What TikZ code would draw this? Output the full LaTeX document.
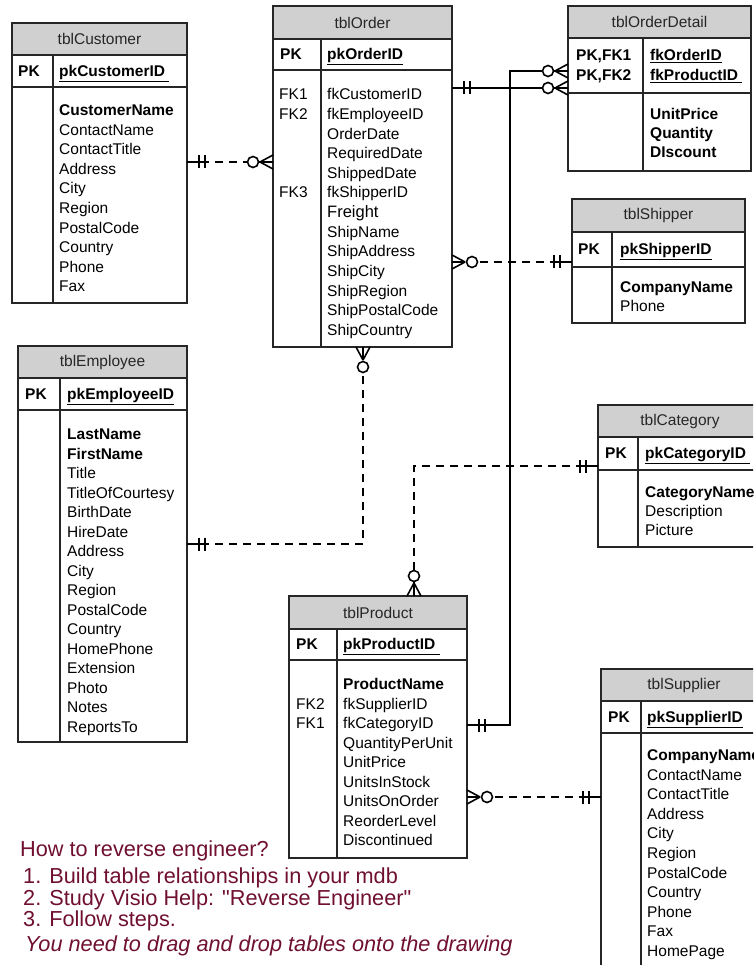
\documentclass[tikz,border=0pt]{standalone}
\usepackage{fontspec}
\setmainfont{Liberation Sans}[Ligatures=TeXOff]
\definecolor{hdrgray}{RGB}{208,208,208}
\definecolor{notecol}{RGB}{112,16,48}

% one entity table: name, x1, y1, x2, y2, header bottom, key row bottom, column divider, title
\newcommand\ertab[9]{%
  \node[tblbox, minimum width={#4-#2}, minimum height={#5-#3}, anchor=north west] (#1) at (#2,#3) {};
  \fill[hdrgray] (#2,#3) rectangle (#4,#6);
  \draw[tblline] (#2,#3) rectangle (#4,#5) (#2,#6) -- (#4,#6) (#2,#7) -- (#4,#7) (#8,#6) -- (#8,#5);
  \node[ttl] (#1-title) at ({(#2+#4)/2},{(#3+#6)/2}) {#9};
}
% a column of field names: prefix, x, first y, row step, list
\newcommand\fieldcol[5]{%
  \foreach \f [count=\i from 0] in {#5} \node[fld] (#1-\i) at (#2,{#3+\i*#4}) {\f};
}

\tikzset{
  tblbox/.style={inner sep=0pt, outer sep=0pt, draw=none},
  tblline/.style={draw=black!85, line width=1.1pt},
  ttl/.style={font=\fontsize{15.5}{19}\selectfont, text=black!85, inner sep=0pt},
  fld/.style={font=\fontsize{15.5}{19}\selectfont, anchor=west, inner sep=0pt, text height=11pt, text depth=0pt},
  rel/.style={line width=1.8pt, black},
  dashrel/.style={rel, dash pattern=on 8pt off 6pt},
  mk/.style={line width=1.6pt, black, solid},
  note/.style={font=\fontsize{21.7}{24}\selectfont, text=notecol, anchor=west, inner sep=0pt, text height=15.5pt, text depth=0pt},
  pics/zeromany/.style={code={
    \draw[mk] (0,-7) -- (13,0) (0,0) -- (13,0) (0,7) -- (13,0);
    \draw[mk, fill=white] (20,0) circle (5.5);
  }},
  pics/onlyone/.style={code={
    \draw[mk] (0,0) -- (22,0) (12,-6.5) -- (12,6.5) (18,-6.5) -- (18,6.5);
  }},
}

\begin{document}
\begin{tikzpicture}[x=1pt,y=-1pt]
\useasboundingbox (0,0) rectangle (753,965);
\clip (0,0) rectangle (753,965);
\fill[white] (0,0) rectangle (753,965);

% ---------------- tables ----------------
\ertab{cust}{12}{23}{187}{303}{55}{87}{53}{tblCustomer}
\node[fld] (cust-pk) at (18,71) {\textbf{PK}};
\node[fld] (cust-key) at (59,71) {\textbf{\underline{pkCustomerID\ }}};
\fieldcol{custf}{59}{110}{19.6}{\textbf{CustomerName},ContactName,ContactTitle,Address,City,Region,PostalCode,Country,Phone,Fax}

\ertab{order}{273}{6}{452}{347}{39}{70}{321}{tblOrder}
\node[fld] (order-pk) at (280,54) {\textbf{PK}};
\node[fld] (order-key) at (327,54) {\textbf{\underline{pkOrderID}}};
\node[fld] (order-fk1) at (279,94.5) {FK1};
\node[fld] (order-fk2) at (279,114.1) {FK2};
\node[fld] (order-fk3) at (279,192.5) {FK3};
\fieldcol{orderf}{327}{94.5}{19.6}{fkCustomerID,fkEmployeeID,OrderDate,RequiredDate,ShippedDate,fkShipperID,{\fontsize{16.5}{19}\selectfont Freight},ShipName,ShipAddress,ShipCity,ShipRegion,ShipPostalCode,ShipCountry}

\ertab{od}{568}{6}{751}{171}{38}{93}{643}{tblOrderDetail}
\node[fld] (od-pk1) at (576,55) {\textbf{PK,FK1}};
\node[fld] (od-pk2) at (576,75) {\textbf{PK,FK2}};
\node[fld] (od-key1) at (650,55) {\textbf{\underline{fkOrderID}}};
\node[fld] (od-key2) at (650,75) {\textbf{\underline{fkProductID\ }}};
\fieldcol{odf}{650}{114}{19}{\textbf{UnitPrice},\textbf{Quantity},\textbf{DIscount}}

\ertab{ship}{572}{199}{745}{323}{232}{267}{612}{tblShipper}
\node[fld] (ship-pk) at (578,249) {\textbf{PK}};
\node[fld] (ship-key) at (620,249) {\textbf{\underline{pkShipperID}}};
\fieldcol{shipf}{620}{287}{19}{\textbf{CompanyName},Phone}

\ertab{emp}{18}{346}{187}{742}{378}{410}{60}{tblEmployee}
\node[fld] (emp-pk) at (25,394) {\textbf{PK}};
\node[fld] (emp-key) at (67,394) {\textbf{\underline{pkEmployeeID}}};
\fieldcol{empf}{67}{434}{19.5}{\textbf{LastName},\textbf{FirstName},Title,TitleOfCourtesy,BirthDate,HireDate,Address,City,Region,PostalCode,Country,HomePhone,Extension,Photo,Notes,ReportsTo}

\ertab{cat}{598}{405}{762}{547}{437}{470}{638}{tblCategory}
\node[fld] (cat-pk) at (605,453) {\textbf{PK}};
\node[fld] (cat-key) at (645,453) {\textbf{\underline{pkCategoryID\ }}};
\fieldcol{catf}{645}{492}{19}{\textbf{CategoryName},Description,Picture}

\ertab{prod}{289}{596}{467}{858}{629}{660}{337}{tblProduct}
\node[fld] (prod-pk) at (296,644) {\textbf{PK}};
\node[fld] (prod-key) at (343,644) {\textbf{\underline{pkProductID\ }}};
\node[fld] (prod-fk2) at (296,703.5) {FK2};
\node[fld] (prod-fk1) at (296,723) {FK1};
\fieldcol{prodf}{343}{684}{19.5}{\textbf{ProductName},fkSupplierID,fkCategoryID,QuantityPerUnit,UnitPrice,UnitsInStock,UnitsOnOrder,ReorderLevel,Discontinued}

\ertab{sup}{601}{669}{767}{1010}{701}{733}{641}{tblSupplier}
\node[fld] (sup-pk) at (608,717) {\textbf{PK}};
\node[fld] (sup-key) at (647,717) {\textbf{\underline{pkSupplierID}}};
\fieldcol{supf}{647}{755}{19.6}{\textbf{CompanyName},ContactName,ContactTitle,Address,City,Region,PostalCode,Country,Phone,Fax,HomePage}

% ---------------- relationships ----------------
\coordinate (co) at (0,162);
\coordinate (ooy) at (0,88);
\coordinate (osy) at (0,262);
\coordinate (eo) at (363,544);
\coordinate (cp) at (414,466);
\coordinate (psy) at (0,797);
\coordinate (spinetop) at (510,71);
\coordinate (spinebot) at (510,725);

\draw[dashrel] (cust.east |- co) -- (order.west |- co);
\draw[rel] (order.east |- ooy) -- (od.west |- ooy);
\draw[rel] (prod.east |- spinebot) -- (spinebot) -- (spinetop) -- (od.west |- spinetop);
\draw[dashrel] (order.east |- osy) -- (ship.west |- osy);
\draw[dashrel] (emp.east |- eo) -- (eo) -- (order.south -| eo);
\draw[dashrel] (cat.west |- cp) -- (cp) -- (prod.north -| cp);
\draw[dashrel] (prod.east |- psy) -- (sup.west |- psy);

% cardinality marks
\pic at (cust.east |- co) {onlyone};
\pic[rotate=180] at (order.west |- co) {zeromany};
\pic at (order.east |- ooy) {onlyone};
\pic[rotate=180] at (od.west |- ooy) {zeromany};
\pic[rotate=180] at (od.west |- spinetop) {zeromany};
\pic at (order.east |- osy) {zeromany};
\pic[rotate=180] at (ship.west |- osy) {onlyone};
\pic[rotate=-90] at (order.south -| eo) {zeromany};
\pic at (emp.east |- eo) {onlyone};
\pic[rotate=90] at (prod.north -| cp) {zeromany};
\pic[rotate=180] at (cat.west |- cp) {onlyone};
\pic at (prod.east |- spinebot) {onlyone};
\pic at (prod.east |- psy) {zeromany};
\pic[rotate=180] at (sup.west |- psy) {onlyone};

% ---------------- notes ----------------
\node[note] (howto) at (20,849) {How to reverse engineer?};
\node[note] (step1) at (23,876) {1. Build table relationships in your mdb};
\node[note] (step2) at (23,898) {2. Study Visio Help: "Reverse Engineer"};
\node[note] (step3) at (23,919) {3. Follow steps.};
\node[note, font=\fontsize{21.7}{24}\selectfont\itshape] (drag) at (25,944) {You need to drag and drop tables onto the drawing};
\end{tikzpicture}
\end{document}
